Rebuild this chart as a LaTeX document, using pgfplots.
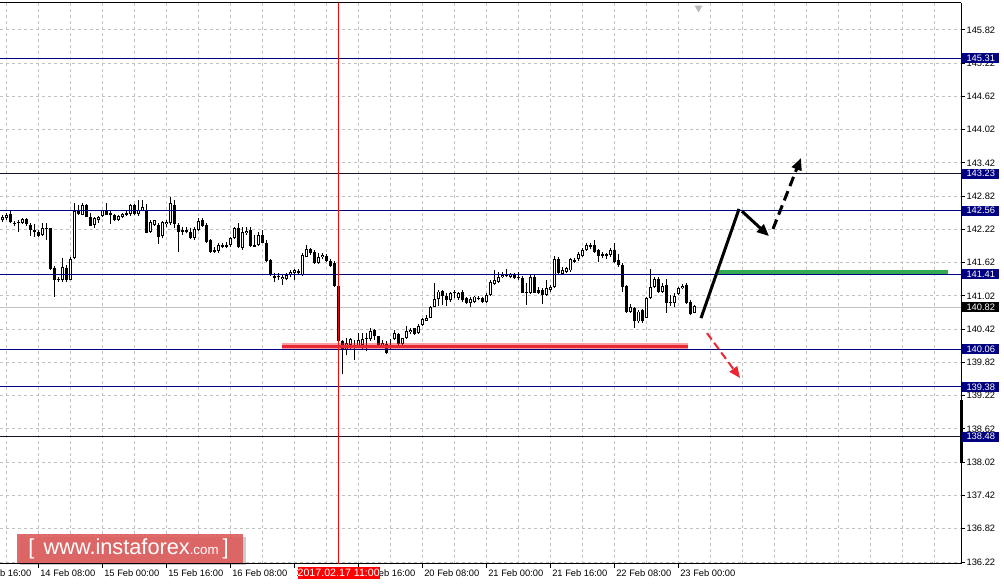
\documentclass[border=0pt]{standalone}
\usepackage{fontspec}
\setmainfont{Liberation Sans}
\usepackage{pgfplots}
\pgfplotsset{compat=1.18}
\usepackage{pgfplotstable}
\usetikzlibrary{arrows.meta}
\definecolor{navy}{RGB}{0,0,128}
\definecolor{darkline}{RGB}{20,20,40}
\definecolor{gridc}{RGB}{192,192,192}
\definecolor{supred}{RGB}{232,40,50}
\definecolor{resgreen}{RGB}{50,170,80}
\definecolor{wmred}{RGB}{222,95,95}

\pgfplotstableread{
k O H L C
0 142.39 142.48 142.35 142.44
1 142.42 142.52 142.40 142.48
2 142.50 142.55 142.33 142.35
3 142.33 142.37 142.28 142.31
4 142.33 142.39 142.17 142.34
5 142.33 142.43 142.31 142.41
6 142.41 142.43 142.29 142.31
7 142.31 142.33 142.10 142.21
8 142.21 142.31 142.08 142.18
9 142.18 142.21 142.09 142.11
10 142.12 142.33 142.10 142.25
11 142.25 142.33 142.03 142.22
12 142.24 142.25 141.49 141.50
13 141.52 141.56 141.00 141.31
14 141.33 141.36 141.27 141.30
15 141.31 141.71 141.28 141.54
16 141.52 141.58 141.28 141.31
17 141.31 141.73 141.30 141.69
18 141.70 142.69 141.69 142.56
19 142.56 142.67 142.48 142.50
20 142.49 142.69 142.48 142.66
21 142.66 142.68 142.44 142.45
22 142.44 142.52 142.28 142.29
23 142.30 142.44 142.25 142.43
24 142.40 142.46 142.34 142.45
25 142.46 142.58 142.44 142.58
26 142.58 142.69 142.49 142.49
27 142.52 142.56 142.32 142.48
28 142.48 142.50 142.38 142.39
29 142.39 142.49 142.38 142.46
30 142.44 142.52 142.42 142.50
31 142.49 142.56 142.46 142.52
32 142.50 142.68 142.46 142.66
33 142.66 142.68 142.48 142.50
34 142.50 142.76 142.46 142.58
35 142.56 142.75 142.55 142.62
36 142.57 142.68 142.15 142.16
37 142.18 142.40 142.16 142.36
38 142.30 142.40 142.28 142.39
39 142.30 142.33 141.96 142.09
40 142.10 142.38 142.06 142.35
41 142.32 142.40 142.27 142.36
42 142.33 142.80 142.30 142.69
43 142.67 142.75 142.24 142.32
44 142.30 142.33 141.82 142.18
45 142.21 142.26 142.12 142.18
46 142.18 142.27 142.15 142.21
47 142.18 142.24 142.04 142.06
48 142.06 142.26 142.03 142.22
49 142.21 142.42 142.20 142.38
50 142.39 142.42 142.27 142.28
51 142.30 142.33 141.97 142.00
52 142.03 142.04 141.80 141.82
53 141.85 141.91 141.79 141.82
54 141.84 141.97 141.80 141.94
55 141.91 141.97 141.88 141.94
56 141.94 142.00 141.88 141.91
57 141.94 142.09 141.91 142.06
58 142.06 142.27 142.04 142.24
59 142.24 142.33 141.88 141.90
60 141.88 142.27 141.85 142.18
61 142.15 142.27 142.12 142.19
62 142.21 142.26 141.90 141.92
63 141.94 142.12 141.90 141.91
64 141.94 142.18 141.92 142.12
65 142.12 142.21 141.97 141.98
66 141.98 142.03 141.64 141.66
67 141.67 141.68 141.38 141.39
68 141.38 141.43 141.28 141.34
69 141.36 141.43 141.31 141.38
70 141.32 141.40 141.22 141.37
71 141.32 141.43 141.30 141.39
72 141.40 141.48 141.37 141.46
73 141.43 141.50 141.31 141.48
74 141.47 141.50 141.41 141.44
75 141.40 141.79 141.38 141.76
76 141.73 141.94 141.72 141.86
77 141.86 141.88 141.76 141.80
78 141.82 141.85 141.60 141.61
79 141.62 141.79 141.60 141.72
80 141.72 141.79 141.68 141.76
81 141.74 141.78 141.63 141.66
82 141.66 141.68 141.54 141.56
83 141.62 141.66 141.18 141.20
84 141.20 141.21 140.17 140.20
85 140.21 140.23 139.62 140.05
86 140.05 140.26 139.95 140.17
87 140.14 140.27 140.05 140.24
88 140.14 140.23 139.86 140.11
89 140.12 140.36 140.08 140.23
90 140.14 140.35 140.05 140.24
91 140.24 140.36 140.02 140.27
92 140.24 140.44 140.21 140.39
93 140.41 140.42 140.23 140.29
94 140.29 140.30 140.11 140.12
95 140.12 140.23 140.09 140.17
96 140.15 140.20 139.98 140.00
97 140.09 140.24 140.07 140.14
98 140.24 140.41 140.23 140.35
99 140.33 140.35 140.13 140.15
100 140.15 140.27 140.12 140.26
101 140.26 140.47 140.25 140.39
102 140.37 140.44 140.33 140.41
103 140.44 140.45 140.31 140.33
104 140.35 140.51 140.33 140.47
105 140.50 140.63 140.47 140.60
106 140.57 140.68 140.56 140.63
107 140.63 140.84 140.62 140.82
108 140.83 141.26 140.82 140.96
109 140.96 141.13 140.84 141.10
110 141.11 141.13 140.86 141.02
111 141.02 141.07 140.84 140.94
112 140.94 141.10 140.92 141.07
113 141.10 141.13 140.98 141.07
114 140.98 141.10 140.95 141.08
115 141.10 141.12 140.92 140.95
116 140.98 141.01 140.88 140.90
117 140.90 141.01 140.82 140.96
118 140.92 141.02 140.90 141.01
119 140.99 141.02 140.94 140.96
120 140.99 141.01 140.89 140.92
121 140.92 141.07 140.90 141.04
122 141.04 141.30 141.02 141.28
123 141.24 141.48 141.22 141.30
124 141.28 141.46 141.25 141.37
125 141.36 141.46 141.34 141.40
126 141.42 141.50 141.36 141.38
127 141.37 141.44 141.34 141.41
128 141.41 141.44 141.32 141.34
129 141.34 141.46 141.31 141.37
130 141.34 141.38 141.07 141.08
131 141.07 141.25 140.86 141.10
132 141.08 141.40 141.06 141.37
133 141.37 141.40 141.07 141.08
134 141.12 141.19 141.06 141.08
135 141.13 141.16 140.88 141.04
136 141.04 141.30 141.02 141.16
137 141.13 141.22 141.10 141.19
138 141.18 141.74 141.16 141.68
139 141.68 141.73 141.40 141.43
140 141.42 141.55 141.40 141.48
141 141.46 141.55 141.44 141.52
142 141.48 141.70 141.46 141.68
143 141.67 141.70 141.62 141.64
144 141.68 141.82 141.66 141.78
145 141.74 141.88 141.72 141.85
146 141.85 141.97 141.84 141.94
147 141.91 141.97 141.86 141.94
148 141.94 142.03 141.80 141.82
149 141.85 141.86 141.64 141.74
150 141.78 141.82 141.70 141.75
151 141.78 141.80 141.68 141.75
152 141.76 141.88 141.73 141.85
153 141.85 141.98 141.62 141.64
154 141.67 141.78 141.55 141.58
155 141.58 141.61 141.10 141.19
156 141.20 141.22 140.72 140.74
157 140.74 140.88 140.72 140.82
158 140.80 140.82 140.45 140.56
159 140.56 140.77 140.54 140.74
160 140.77 140.78 140.53 140.56
161 140.63 141.01 140.62 140.98
162 140.98 141.50 140.96 141.18
163 141.18 141.37 141.16 141.32
164 141.32 141.37 141.08 141.10
165 141.10 141.25 141.08 141.20
166 141.22 141.32 140.72 140.89
167 140.89 141.04 140.84 140.92
168 140.89 141.07 140.82 141.02
169 141.06 141.19 141.04 141.16
170 141.16 141.24 141.14 141.20
171 141.22 141.26 140.88 140.90
172 140.92 140.94 140.68 140.70
173 140.72 140.86 140.71 140.84
}\candles

\begin{document}
\begin{tikzpicture}
\path[use as bounding box] (0pt,-15.75pt) rectangle (753pt,423pt);
\begin{axis}[
  at={(0pt,0pt)}, anchor=south west,
  scale only axis, width=720.75pt, height=420.75pt,
  xmin=0, xmax=961, ymin=136.184, ymax=146.307,
  clip=false,
  axis x line*=bottom, axis y line*=right,
  axis line style={black, line width=0.75pt},
  xtick={38.7,102.7,166.7,230.7,294.7,358.7,422.7,486.7,550.7,614.7,678.7},
  xticklabels={14 Feb 08:00, 15 Feb 00:00, 15 Feb 16:00, 16 Feb 08:00, 17 Feb 00:00, 17 Feb 16:00, 20 Feb 08:00, 21 Feb 00:00, 21 Feb 16:00, 22 Feb 08:00, 23 Feb 00:00},
  minor xtick={6.7,70.7,134.7,198.7,262.7,326.7,390.7,454.7,518.7,582.7,646.7,710.7,742.7,774.7,806.7,838.7,870.7,902.7,934.7},
  ytick={136.22,136.82,137.42,138.02,138.62,139.22,139.82,140.42,141.02,141.62,142.22,142.82,143.42,144.02,144.62,145.22,145.82},
  yticklabels={136.22,136.82,137.42,138.02,138.62,139.22,139.82,140.42,141.02,141.62,142.22,142.82,143.42,144.02,144.62,145.22,145.82},
  tick align=outside,
  major tick length=3pt, minor tick length=0pt,
  tick style={black, line width=0.75pt},
  grid=both,
  major grid style={gridc, dash pattern=on 2.25pt off 2.25pt, line width=0.75pt},
  minor grid style={gridc, dash pattern=on 2.25pt off 2.25pt, line width=0.75pt},
  xticklabel style={anchor=north west, inner sep=0pt, font=\fontsize{7}{8}\selectfont, xshift=1pt, yshift=-1pt},
  yticklabel style={anchor=west, inner sep=0pt, font=\fontsize{7}{8}\selectfont, xshift=1pt},
  candle/.style={only marks, mark=text, text mark={}, forget plot,
    error bars/y dir=plus, error bars/y explicit, error bars/error mark=none},
]
% bid line
\addplot[gridc, line width=0.75pt, forget plot] coordinates {(0,140.82) (961,140.82)};
% wicks
\addplot[candle, error bars/error bar style={black, line width=0.75pt, solid}]
  table[x expr=4*\thisrow{k}+2.7, y=L, y error plus expr={\thisrow{H}-\thisrow{L}}] {\candles};
% bodies
\addplot[candle, error bars/error bar style={black, line width=2.6pt, solid}]
  table[x expr=4*\thisrow{k}+2.7, y expr={min(\thisrow{O},\thisrow{C})}, y error plus expr={max(abs(\thisrow{C}-\thisrow{O}),0.018)}] {\candles};
% white interiors
\addplot[candle, error bars/error bar style={white, line width=1pt, solid}]
  table[x expr=4*\thisrow{k}+2.7, y expr={min(\thisrow{O},\thisrow{C})+0.017}, y error plus expr={max(\thisrow{C}-\thisrow{O}-0.034,0)}] {\candles};
% level lines
\addplot[navy, line width=0.75pt] coordinates {(0,145.31) (961,145.31)};
\addplot[darkline, line width=0.75pt] coordinates {(0,143.23) (961,143.23)};
\addplot[navy, line width=0.75pt] coordinates {(0,142.56) (961,142.56)};
\addplot[navy, line width=0.75pt] coordinates {(0,141.41) (961,141.41)};
\addplot[navy, line width=0.75pt] coordinates {(0,140.06) (961,140.06)};
\addplot[navy, line width=0.75pt] coordinates {(0,139.38) (961,139.38)};
\addplot[darkline, line width=0.75pt] coordinates {(0,138.48) (961,138.48)};
% red vertical line
\addplot[red, line width=0.75pt] coordinates {(338.7,136.184) (338.7,146.307)};
% support and resistance
\addplot[supred, opacity=0.45, line width=4.5pt] coordinates {(282,140.11) (688,140.11)};
\addplot[supred, line width=2.25pt] coordinates {(282,140.11) (688,140.11)};
\addplot[resgreen, line width=3pt] coordinates {(718,141.45) (948,141.45)};
% arrows
\addplot[black, line width=2.25pt] coordinates {(701,140.62) (739,142.59)};
\addplot[black, line width=2.25pt, -{Triangle[length=9pt,width=7.5pt]}] coordinates {(742,142.55) (769,142.10)};
\addplot[black, line width=2.25pt, dash pattern=on 7.5pt off 4pt, -{Triangle[length=9pt,width=7.5pt]}] coordinates {(773,142.23) (801,143.51)};
\addplot[supred, line width=1.5pt, dash pattern=on 6pt off 3pt, -{Triangle[length=8.5pt,width=7pt]}] coordinates {(707,140.35) (740,139.54)};
% right-edge bar and top marker
\addplot[black, line width=2.25pt] coordinates {(961.5,139.14) (961.5,138.01)};
\addplot[only marks, mark=triangle*, mark size=3pt, mark options={rotate=180, fill=gray!55, draw=gray!55}] coordinates {(698.5,146.22)};
% top frame
\draw[black, line width=0.75pt] (rel axis cs:0,1) -- (rel axis cs:1,1);
% watermark
\fill[black, opacity=0.2] (axis cs:19.5,136.68) rectangle (axis cs:245.5,136.16);
\fill[wmred, opacity=0.93] (axis cs:17,136.725) rectangle (axis cs:243,136.202);
\node[text=white, anchor=west, inner sep=0pt, font=\fontsize{16.3}{18}\selectfont] at (axis cs:28,136.46) {[\hspace{7pt}www.instaforex{\fontsize{10}{12}\selectfont.com}\hspace{3pt}]};
% coordinates for labels
\coordinate (l1) at (axis cs:961,145.31);
\coordinate (l2) at (axis cs:961,143.23);
\coordinate (l3) at (axis cs:961,142.56);
\coordinate (l4) at (axis cs:961,141.41);
\coordinate (l5) at (axis cs:961,140.06);
\coordinate (l6) at (axis cs:961,139.38);
\coordinate (l7) at (axis cs:961,138.48);
\coordinate (lb) at (axis cs:961,140.82);
\coordinate (red) at (axis cs:338.7,136.184);
\coordinate (first) at (axis cs:-25.3,136.184);
\end{axis}
\tikzset{lvl/.style={fill=navy, text=white, anchor=west, inner sep=0pt, minimum width=27.75pt, minimum height=7.5pt, font=\fontsize{7}{8}\selectfont, xshift=0.75pt}}
\node[lvl] at (l1) {145.31};
\node[lvl] at (l2) {143.23};
\node[lvl] at (l3) {142.56};
\node[lvl] at (l4) {141.41};
\node[lvl] at (l5) {140.06};
\node[lvl] at (l6) {139.38};
\node[lvl] at (l7) {138.48};
\node[lvl, fill=black] at (lb) {140.82};
\node[anchor=north west, inner sep=0pt, font=\fontsize{7}{8}\selectfont, xshift=1pt, yshift=-4pt] at (first) {13 Feb 16:00};
\node[fill=red, text=white, anchor=north, inner sep=0pt, minimum width=60pt, minimum height=9pt, font=\fontsize{8}{9}\selectfont, yshift=-2.25pt] at (red) {2017.02.17 11:00};
\end{tikzpicture}
\end{document}
